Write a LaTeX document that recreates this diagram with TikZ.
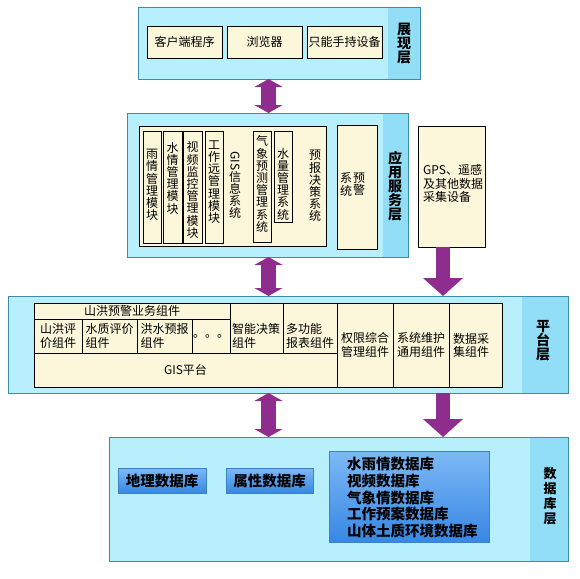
\documentclass[tikz,border=0pt]{standalone}
\usepackage{fontspec}
\newfontfamily\cjk{Noto Sans CJK SC}
\usepackage{xcolor}
\usepackage{tikz}
\usetikzlibrary{arrows.meta,positioning,calc}

\definecolor{layerfill}{RGB}{183,239,252}
\definecolor{stripfill}{RGB}{145,222,246}
\definecolor{layerline}{RGB}{60,140,165}
\definecolor{cream}{RGB}{252,247,218}
\definecolor{arrowpurple}{RGB}{142,45,142}
\definecolor{dbtop}{RGB}{125,185,245}
\definecolor{dbbot}{RGB}{55,135,228}
\definecolor{dbline}{RGB}{60,130,200}

\begin{document}
\begin{tikzpicture}[x=1pt,y=-1pt,
                    layerbox/.style={draw=layerline, fill=layerfill, line width=0.8pt,
                                     inner sep=0pt, outer sep=0pt, anchor=north west,
                                     path picture={\fill[stripfill] ([xshift=-#1]path picture bounding box.north east) rectangle (path picture bounding box.south east);}},
                    cell/.style={draw=black, fill=cream, line width=0.5pt, inner sep=0pt, outer sep=0pt,
                                 anchor=north west, align=left, font=\cjk\fontsize{12}{13.5}\selectfont},
                    dbbox/.style={draw=dbline, top color=dbtop, bottom color=dbbot, line width=0.5pt,
                                  inner sep=0pt, outer sep=0pt, anchor=north west,
                                  font=\cjk\bfseries\fontsize{14.5}{16.75}\selectfont},
                    txt/.style={inner sep=0pt, align=left, font=\cjk\fontsize{12}{13.5}\selectfont},
                    vtxt/.style={inner sep=0pt, align=center, font=\cjk\fontsize{12}{12.2}\selectfont},
                    tag/.style={inner sep=0pt, align=center, font=\cjk\bfseries\fontsize{14}{14}\selectfont},
                    dbl/.style={draw=arrowpurple, line width=15pt,
                                arrows={Triangle[width=28pt,length=8pt]-Triangle[width=28pt,length=8pt]}},
                    dnarrow/.style={draw=arrowpurple, line width=14pt,
                                    arrows={-Triangle[width=39pt,length=18pt]}},
                   ]

\useasboundingbox (0,0) rectangle (580,578);

% layers
\node[layerbox=32pt, minimum width=282pt, minimum height=72pt]  (show) at (138,7) {};
\node[layerbox=25pt, minimum width=281pt, minimum height=144pt] (app)  at (127,113) {};
\node[layerbox=46pt, minimum width=560pt, minimum height=97pt]  (plat) at (8,296) {};
\node[layerbox=38pt, minimum width=459pt, minimum height=124pt] (db)   at (109,437) {};

\node[tag] at (404,44)  {展\\现\\层};
\node[tag] at (395,186) {应\\用\\服\\务\\层};
\node[tag] at (543,341) {平\\台\\层};
\node[tag, font=\cjk\bfseries\fontsize{13}{15}\selectfont] at (550,496) {数\\据\\库\\层};

% show layer
\node[cell, minimum width=75pt, minimum height=32pt] (client)  at (147,26) {客户端程序};
\node[cell, minimum width=75pt, minimum height=32pt] (browser) at (227,26) {浏览器};
\node[cell, minimum width=75pt, minimum height=32pt] (hand)    at (307,26) {只能手持设备};

% application layer
\node[cell, minimum width=187pt, minimum height=120pt] (appin) at (139,126) {};
\node[cell, minimum width=18pt, minimum height=112pt] (rain)  at (143,131) {};
\node[cell, minimum width=19pt, minimum height=112pt] (water) at (163,131) {};
\node[cell, minimum width=19pt, minimum height=112pt] (video) at (183,131) {};
\node[cell, minimum width=18pt, minimum height=112pt] (work)  at (205,131) {};
\node[cell, minimum width=18pt, minimum height=111pt] (meteo) at (253,131) {};
\node[cell, minimum width=18pt, minimum height=91pt]  (flow)  at (274,131) {};
\node[cell, minimum width=40pt, minimum height=124pt] (warn)  at (337,125) {};

\node[vtxt] at (152,185)   {雨\\情\\管\\理\\模\\块};
\node[vtxt] at (172.5,178) {水\\情\\管\\理\\模\\块};
\node[vtxt] at (192.5,190) {视\\频\\监\\控\\管\\理\\模\\块};
\node[vtxt] at (214,182)   {工\\作\\远\\管\\理\\模\\块};
\node[vtxt] at (235,185)   {\rotatebox{-90}{GIS}\\信\\息\\系\\统};
\node[vtxt] at (262,184)   {气\\象\\预\\测\\管\\理\\系\\统};
\node[vtxt] at (283,184)   {水\\量\\管\\理\\系\\统};
\node[vtxt] at (315,186)   {预\\报\\决\\策\\系\\统};
\node[vtxt] at (359,184.5) {预\\警};
\node[vtxt] at (346,184.5) {系\\统};

\node[cell, minimum width=67pt, minimum height=121pt] (gps) at (418,126) {};
\node[txt, anchor=west] at (423,183.5) {GPS、遥感\\及其他数据\\采集设备};

% platform layer
\node[cell, align=center, minimum width=196pt, minimum height=16pt] (flood) at (34,303) {山洪预警业务组件};
\node[cell, minimum width=48pt, minimum height=34pt] (fe)  at (34,319)  {山洪评\\价组件};
\node[cell, minimum width=55pt, minimum height=34pt] (qe)  at (82,319)  {水质评价\\组件};
\node[cell, minimum width=55pt, minimum height=34pt] (ff)  at (137,319) {洪水预报\\组件};
\node[cell, minimum width=38pt, minimum height=34pt] (etc) at (192,319) {。。。};
\node[cell, minimum width=53pt, minimum height=50pt] (smart) at (230,303) {};
\node[cell, minimum width=54pt, minimum height=50pt] (report) at (283,303) {};
\node[txt, anchor=west] at (232,336) {智能决策\\组件};
\node[txt, anchor=west] at (286,336) {多功能\\报表组件};
\node[cell, align=center, minimum width=303pt, minimum height=34pt] (gis) at (34,353) {GIS平台};
\node[cell, minimum width=56pt, minimum height=84pt] (auth)  at (337,303) {权限综合\\管理组件};
\node[cell, minimum width=56pt, minimum height=84pt] (maint) at (393,303) {系统维护\\通用组件};
\node[cell, minimum width=53pt, minimum height=84pt] (coll)  at (449,303) {};
\node[txt, anchor=west] at (453,345.5) {数据采\\集组件};

% database layer
\node[dbbox, minimum width=88pt, minimum height=25pt]  (geo)  at (118,468) {地理数据库};
\node[dbbox, minimum width=87pt, minimum height=25pt]  (attr) at (226,468) {属性数据库};
\node[dbbox, minimum width=160pt, minimum height=91pt] (many) at (329,451) {};
\node[txt, anchor=west, font=\cjk\bfseries\fontsize{14.5}{16.75}\selectfont] at (347,497.5)
     {水雨情数据库\\视频数据库\\气象情数据库\\工作预案数据库\\山体土质环境数据库};

% arrows
\coordinate (ax) at (268.5,0);
\coordinate (bx) at (443,0);
\draw[dbl] (show.south -| ax) -- (app.north -| ax);
\draw[dbl] (app.south -| ax) -- (plat.north -| ax);
\draw[dbl] (plat.south -| ax) -- (db.north -| ax);
\draw[dnarrow] (gps.south -| bx) -- (plat.north -| bx);
\draw[dnarrow] (plat.south -| bx) -- (db.north -| bx);

\end{tikzpicture}
\end{document}
